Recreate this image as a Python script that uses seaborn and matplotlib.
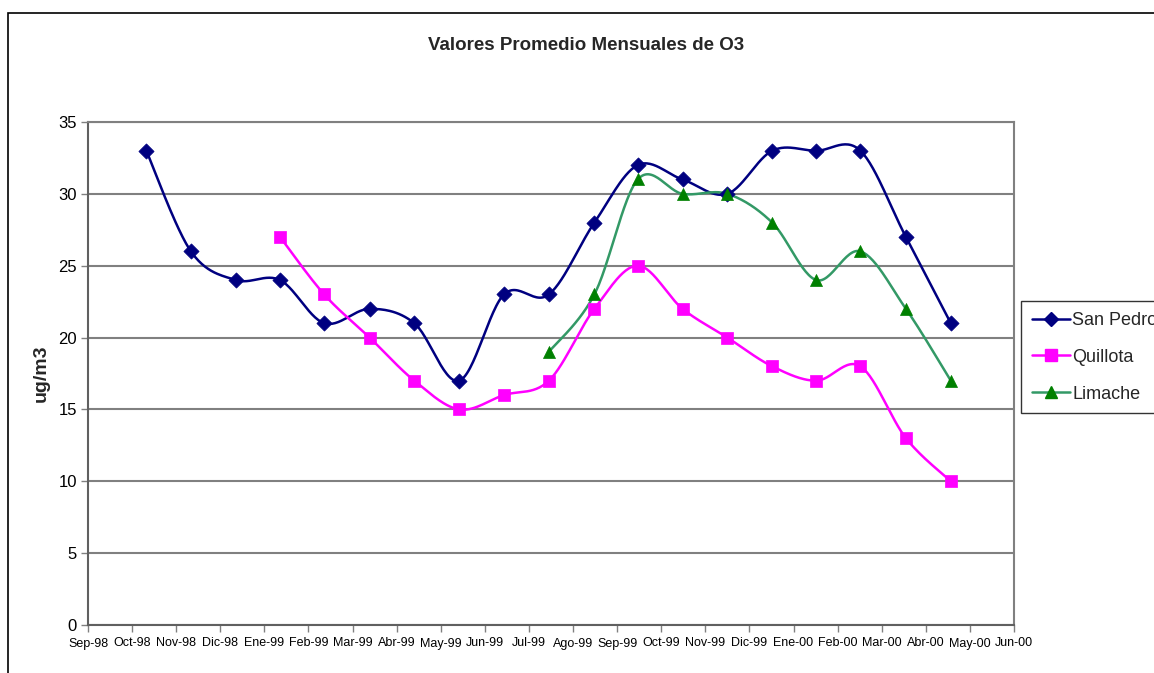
import numpy as np
import pandas as pd
import matplotlib
matplotlib.use('Agg')
import matplotlib.pyplot as plt
from matplotlib.lines import Line2D
from matplotlib.patches import Rectangle
import seaborn as sns

dates = ['1998-10-11', '1998-11-11', '1998-12-12', '1999-01-12', '1999-02-11',
         '1999-03-13', '1999-04-13', '1999-05-14', '1999-06-14', '1999-07-15',
         '1999-08-16', '1999-09-15', '1999-10-16', '1999-11-16', '1999-12-17',
         '2000-01-17', '2000-02-16', '2000-03-18', '2000-04-18']

san_pedro = [33, 26, 24, 24, 21, 22, 21, 17, 23, 23, 28, 32, 31, 30, 33, 33, 33, 27, 21]
quillota = [None, None, None, 27, 23, 20, 17, 15, 16, 17, 22, 25, 22, 20, 18, 17, 18, 13, 10]
limache = [None] * 9 + [19, 23, 31, 30, 30, 28, 24, 26, 22, 17]

tick_labels = ['Sep-98', 'Oct-98', 'Nov-98', 'Dic-98', 'Ene-99', 'Feb-99', 'Mar-99',
               'Abr-99', 'May-99', 'Jun-99', 'Jul-99', 'Ago-99', 'Sep-99', 'Oct-99',
               'Nov-99', 'Dic-99', 'Ene-00', 'Feb-00', 'Mar-00', 'Abr-00', 'May-00',
               'Jun-00']

series = ['San Pedro', 'Quillota', 'Limache']
line_colors = {'San Pedro': '#000080', 'Quillota': '#FF00FF', 'Limache': '#339966'}
marker_colors = {'San Pedro': '#000080', 'Quillota': '#FF00FF', 'Limache': '#008000'}
markers = {'San Pedro': 'D', 'Quillota': 's', 'Limache': '^'}
marker_sizes = {'San Pedro': 60, 'Quillota': 70, 'Limache': 75}

df = pd.DataFrame({'fecha': pd.to_datetime(dates), 'San Pedro': san_pedro,
                   'Quillota': quillota, 'Limache': limache})
# axis runs in equal-width months starting Sep-98
df['mes'] = ((df['fecha'].dt.year - 1998) * 12 + df['fecha'].dt.month - 9
             + (df['fecha'].dt.day - 1) / df['fecha'].dt.days_in_month)
long = df.melt(id_vars=['fecha', 'mes'], var_name='estacion', value_name='ug_m3').dropna()

sns.set_theme(style='white')
plt.rcParams['font.family'] = ['Liberation Sans', 'DejaVu Sans']

W, H = 1154, 673
fig = plt.figure(figsize=(W / 100, H / 100), dpi=100)
ax = fig.add_axes([88 / W, 1 - 625 / H, (1014 - 88) / W, (625 - 122) / H])

n_months = len(tick_labels) - 1
px_x = (1014 - 88) / n_months
px_y = (625 - 122) / 35.0


def excel_smooth(xv, yv, n=30):
    # Excel-like smoothed line: Bezier segments with tangents (P2-P0)/6, in pixel space
    P = np.column_stack([xv * px_x, yv * px_y])
    out = []
    for i in range(len(P) - 1):
        p0 = P[i - 1] if i > 0 else P[i]
        p1, p2 = P[i], P[i + 1]
        p3 = P[i + 2] if i + 2 < len(P) else P[i + 1]
        c1 = p1 + (p2 - p0) / 6.0
        c2 = p2 - (p3 - p1) / 6.0
        t = np.linspace(0, 1, n)[:, None]
        seg = ((1 - t) ** 3) * p1 + 3 * ((1 - t) ** 2) * t * c1 + 3 * (1 - t) * t ** 2 * c2 + t ** 3 * p2
        out.append(seg if i == 0 else seg[1:])
    out = np.vstack(out)
    return out[:, 0] / px_x, out[:, 1] / px_y


for name in series:
    sub = long[long['estacion'] == name]
    xs, ys = excel_smooth(sub['mes'].to_numpy(float), sub['ug_m3'].to_numpy(float))
    ax.plot(xs, ys, color=line_colors[name], lw=1.8, zorder=3)
    sns.scatterplot(data=sub, x='mes', y='ug_m3', ax=ax,
                    marker=markers[name], s=marker_sizes[name], color=marker_colors[name],
                    edgecolor=marker_colors[name], linewidth=0.5, zorder=4, legend=False)

ax.set_xlim(0, n_months)
ax.set_ylim(0, 35)
ax.set_yticks(range(0, 36, 5))
ax.yaxis.grid(True, color='#808080', lw=1.5)
ax.xaxis.grid(False)

ax.set_xticks(range(len(tick_labels)))
ax.set_xticklabels(tick_labels, fontsize=9)
ax.tick_params(axis='y', labelsize=12, pad=3)
ax.tick_params(axis='x', pad=4)
ax.tick_params(axis='both', direction='out', length=5, width=1, color='#808080',
               bottom=True, left=True, labelcolor='black')
ax.set_xlabel('')
ax.set_ylabel('ug/m3', fontsize=14, fontweight='bold', labelpad=6)
for sp in ax.spines.values():
    sp.set_color('#808080')
    sp.set_linewidth(1.5)
ax.spines['bottom'].set_color('#606060')
ax.spines['left'].set_color('#606060')

fig.text(586 / W, 1 - 46 / H, 'Valores Promedio Mensuales de O3', ha='center', va='center',
         fontsize=13.5, fontweight='bold')

handles = [Line2D([], [], color=line_colors[n], lw=1.8, marker=markers[n],
                  markersize=8 if n != 'San Pedro' else 7,
                  markerfacecolor=marker_colors[n], markeredgecolor=marker_colors[n])
           for n in series]
leg = fig.legend(handles, series, loc='upper left', bbox_to_anchor=(1021 / W, 1 - 301 / H),
                 fontsize=13, frameon=True, fancybox=False, handlelength=2.1,
                 handletextpad=0.15, labelspacing=1.1, borderpad=0.6, borderaxespad=0)
leg.get_frame().set_edgecolor('black')
leg.get_frame().set_linewidth(1.0)

# outer chart-area border (runs off the right and bottom edges)
fig.patches.append(Rectangle((8 / W, -0.1), 1.2, 1 - 13 / H + 0.1, transform=fig.transFigure,
                             fill=False, edgecolor='black', lw=1.2))

fig.savefig('out.png', dpi=100)
